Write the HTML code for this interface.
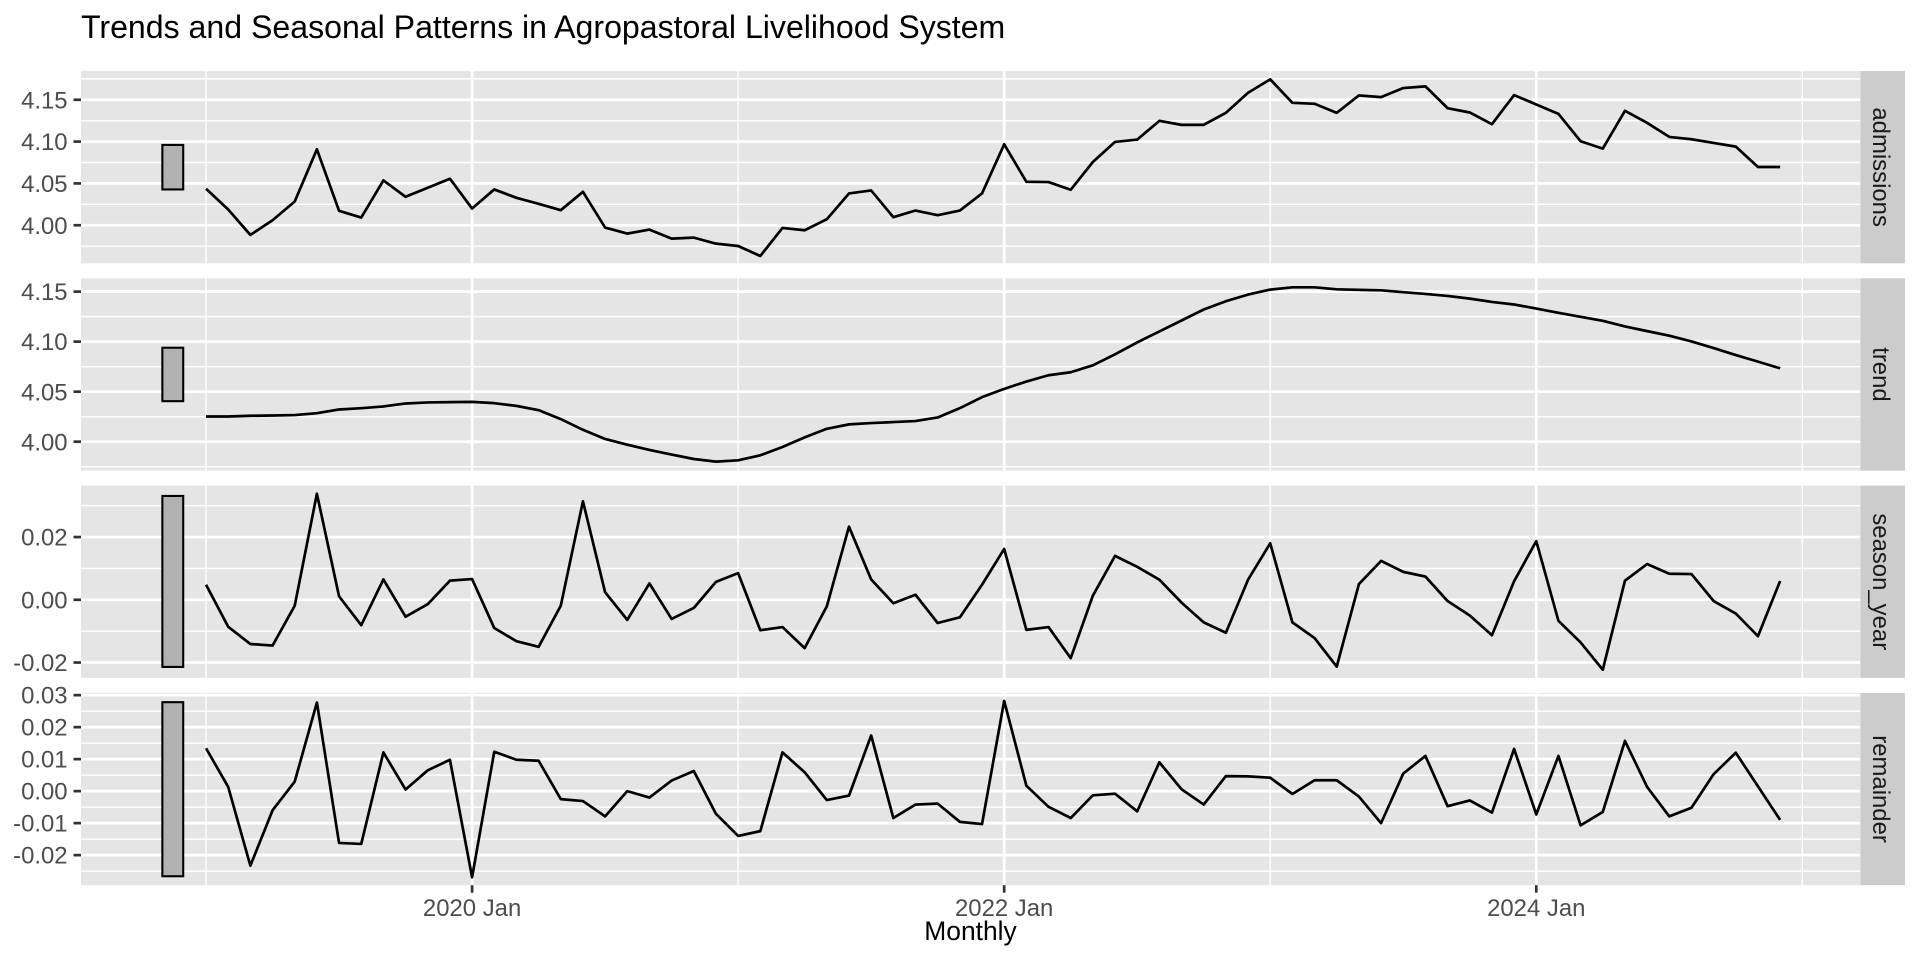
<!DOCTYPE html>
<html lang="en">
<head>
<meta charset="utf-8">
<title>Trends and Seasonal Patterns in Agropastoral Livelihood System</title>
<style>
html,body{margin:0;padding:0;background:#fff;width:1920px;height:960px;overflow:hidden}
svg{display:block}
text{font-family:"Liberation Sans",Arial,Helvetica,sans-serif}
</style>
</head>
<body>
<svg id="chart" xmlns="http://www.w3.org/2000/svg" width="1920" height="960" viewBox="0 0 1920 960">
  <rect x="0" y="0" width="1920" height="960" fill="#ffffff"/>
  <text x="81" y="38" font-size="32.1" fill="#000000">Trends and Seasonal Patterns in Agropastoral Livelihood System</text>
  <text x="970.5" y="940" font-size="26.4" text-anchor="middle" fill="#000000">Monthly</text>
  <g id="panels"></g>
</svg>
<script>
// Monthly series, January 2019 to December 2024
const admissionsValues = [4.0436,4.0188,3.9884,4.0060,4.0284,4.0908,4.0172,4.0092,4.0536,4.0340,4.0448,4.0556,
4.0200,4.0428,4.0328,4.0256,4.0180,4.0400,3.9972,3.9900,3.9948,3.9840,3.9852,3.9780,
3.9752,3.9632,3.9968,3.9940,4.0072,4.0380,4.0416,4.0096,4.0176,4.0120,4.0176,4.0380,
4.0968,4.0520,4.0516,4.0424,4.0756,4.0996,4.1024,4.1248,4.1200,4.1200,4.1344,4.1584,
4.1744,4.1464,4.1452,4.1344,4.1552,4.1532,4.1640,4.1660,4.1400,4.1348,4.1208,4.1556,
4.1444,4.1332,4.1004,4.0916,4.1368,4.1224,4.1056,4.1028,4.0984,4.0940,4.0696,4.0696];
const trendValues = [4.0252,4.0252,4.0259,4.0262,4.0266,4.0285,4.0322,4.0335,4.0352,4.0382,4.0392,4.0395,
4.0398,4.0385,4.0358,4.0315,4.0226,4.0119,4.0027,3.9970,3.9917,3.9871,3.9827,3.9801,
3.9814,3.9864,3.9947,4.0043,4.0129,4.0173,4.0186,4.0196,4.0206,4.0242,4.0335,4.0445,
4.0528,4.0601,4.0664,4.0694,4.0763,4.0873,4.0992,4.1102,4.1211,4.1321,4.1404,4.1470,
4.1520,4.1543,4.1543,4.1523,4.1517,4.1513,4.1494,4.1477,4.1457,4.1430,4.1397,4.1371,
4.1331,4.1288,4.1248,4.1208,4.1152,4.1105,4.1059,4.1002,4.0936,4.0866,4.0800,4.0733];
const seasonValues = [0.0048,-0.0086,-0.0141,-0.0146,-0.0019,0.0338,0.0011,-0.0081,0.0065,-0.0054,-0.0014,0.0061,
0.0066,-0.0090,-0.0132,-0.0150,-0.0019,0.0314,0.0024,-0.0064,0.0052,-0.0061,-0.0026,0.0057,
0.0085,-0.0097,-0.0087,-0.0154,-0.0021,0.0233,0.0065,-0.0011,0.0016,-0.0074,-0.0056,0.0048,
0.0162,-0.0096,-0.0087,-0.0186,0.0013,0.0140,0.0105,0.0064,-0.0009,-0.0072,-0.0105,0.0064,
0.0180,-0.0072,-0.0122,-0.0213,0.0050,0.0124,0.0089,0.0074,-0.0004,-0.0050,-0.0113,0.0059,
0.0187,-0.0067,-0.0136,-0.0223,0.0061,0.0114,0.0083,0.0082,-0.0004,-0.0044,-0.0116,0.0060];
const remainderValues = [0.0134,0.0013,-0.0233,-0.0060,0.0030,0.0277,-0.0162,-0.0165,0.0121,0.0005,0.0065,0.0098,
-0.0269,0.0123,0.0098,0.0095,-0.0025,-0.0031,-0.0079,0.0000,-0.0020,0.0033,0.0063,-0.0071,
-0.0140,-0.0125,0.0121,0.0059,-0.0028,-0.0014,0.0174,-0.0084,-0.0042,-0.0039,-0.0096,-0.0103,
0.0282,0.0017,-0.0049,-0.0084,-0.0013,-0.0008,-0.0063,0.0090,0.0006,-0.0042,0.0047,0.0046,
0.0042,-0.0009,0.0034,0.0034,-0.0017,-0.0100,0.0055,0.0110,-0.0047,-0.0029,-0.0067,0.0132,
-0.0073,0.0110,-0.0107,-0.0065,0.0157,0.0013,-0.0079,-0.0052,0.0053,0.0120,0.0015,-0.0090];

// Panel names
const panelNames = ["admissions","trend","season_year","remainder"];

// Y tick values per panel
const admissionsTicks = [4.00,4.05,4.10,4.15];
const trendTicks = [4.00,4.05,4.10,4.15];
const seasonTicks = [-0.02,0.00,0.02];
const remainderTicks = [-0.02,-0.01,0.00,0.01,0.02,0.03];

// Y range-bar extents per panel (low, high)
const admissionsRange = [4.0428,4.0960];
const trendRange = [4.0405,4.0939];
const seasonRange = [-0.0214,0.0331];
const remainderRange = [-0.0266,0.0278];

// X axis: labelled years and unlabelled years (month offsets from Jan 2019)
const majorMonths = [12,36,60];
const majorLabels = ["2020 Jan","2022 Jan","2024 Jan"];
const minorMonths = [0,24,48,72];

// Y domains per panel (bottom, top of panel)
const admissionsDomain = [3.9545,4.1844];
const trendDomain = [3.9711,4.1633];
const seasonDomain = [-0.0249,0.0364];
const remainderDomain = [-0.0294,0.0307];

const NS = "http://www.w3.org/2000/svg";
const root = document.getElementById("panels");
const plotLeft = 81, plotRight = 1860.4, stripRight = 1905;
const panelTop0 = 71, panelH = 192.3, panelGap = 15;
const xMonthMin = -5.64, xMonthMax = 74.62;

function xScale(m){
  return plotLeft + (m - xMonthMin) / (xMonthMax - xMonthMin) * (plotRight - plotLeft);
}
function makeYScale(domain, top){
  return function(v){
    return top + panelH - (v - domain[0]) / (domain[1] - domain[0]) * panelH;
  };
}
function svgEl(tag, attrs, parent){
  const el = document.createElementNS(NS, tag);
  for (const k in attrs) el.setAttribute(k, attrs[k]);
  parent.appendChild(el);
  return el;
}

const panelSeries = [admissionsValues, trendValues, seasonValues, remainderValues];
const panelTicks = [admissionsTicks, trendTicks, seasonTicks, remainderTicks];
const panelRanges = [admissionsRange, trendRange, seasonRange, remainderRange];
const panelDomains = [admissionsDomain, trendDomain, seasonDomain, remainderDomain];

panelNames.forEach(function(name, p){
  const top = panelTop0 + p * (panelH + panelGap);
  const bottom = top + panelH;
  const y = makeYScale(panelDomains[p], top);
  const ticks = panelTicks[p];
  const dom = panelDomains[p];

  const g = svgEl("g", {}, root);
  
  

  const bg = svgEl("rect", {x:plotLeft, y:top, width:plotRight-plotLeft, height:panelH, fill:"#e5e5e5"}, g);
  
  

  // minor horizontal gridlines: half-way between major ticks, and beyond the ends
  const step = ticks[1] - ticks[0];
  for (let i = -1; i < ticks.length; i++) {
    const mv = ticks[0] + (i + 0.5) * step;
    if (mv <= dom[0] || mv >= dom[1]) continue;
    const ml = svgEl("line", {x1:plotLeft, x2:plotRight, y1:y(mv), y2:y(mv), stroke:"#ffffff", "stroke-width":1.4}, g);
    
    
  }
  minorMonths.forEach(function(m){
    const l = svgEl("line", {x1:xScale(m), x2:xScale(m), y1:top, y2:bottom, stroke:"#ffffff", "stroke-width":1.4}, g);
    
    
  });
  ticks.forEach(function(t){
    const l = svgEl("line", {x1:plotLeft, x2:plotRight, y1:y(t), y2:y(t), stroke:"#ffffff", "stroke-width":2.7}, g);
    
    
  });
  majorMonths.forEach(function(m){
    const l = svgEl("line", {x1:xScale(m), x2:xScale(m), y1:top, y2:bottom, stroke:"#ffffff", "stroke-width":2.7}, g);
    
    
  });

  // scale range bar
  const r = panelRanges[p];
  const bar = svgEl("rect", {x:xScale(-1.5-0.47), y:y(r[1]), width:xScale(-1.5+0.47)-xScale(-1.5-0.47), height:y(r[0])-y(r[1]), fill:"#b2b2b2", stroke:"#000000", "stroke-width":2.1}, g);
  
  

  // series line
  const pts = panelSeries[p].map(function(v, i){ return xScale(i).toFixed(2) + "," + y(v).toFixed(2); }).join(" ");
  const line = svgEl("polyline", {points:pts, fill:"none", stroke:"#000000", "stroke-width":2.7, "stroke-linejoin":"round", "stroke-linecap":"butt"}, g);
  
  

  // y ticks and labels
  ticks.forEach(function(t){
    const tk = svgEl("line", {x1:plotLeft-7.5, x2:plotLeft, y1:y(t), y2:y(t), stroke:"#333333", "stroke-width":2.7}, g);
    
    
    const lb = svgEl("text", {x:67.6, y:y(t)+8.6, "font-size":23.9, "text-anchor":"end", fill:"#4d4d4d"}, g);
    
    
    lb.textContent = t.toFixed(2);
  });

  // strip
  const st = svgEl("rect", {x:plotRight, y:top, width:stripRight-plotRight, height:panelH, fill:"#cccccc"}, g);
  
  
  const cy = top + panelH / 2;
  const sl = svgEl("text", {x:0, y:0, transform:"translate(1873," + cy + ") rotate(90)", "font-size":23.9, "text-anchor":"middle", fill:"#1a1a1a"}, g);
  
  
  sl.textContent = name;
});

// x axis ticks and labels, below the last panel
const axisY = panelTop0 + 3 * (panelH + panelGap) + panelH;
const xAxis = svgEl("g", {}, root);


majorMonths.forEach(function(m, i){
  const tk = svgEl("line", {x1:xScale(m), x2:xScale(m), y1:axisY, y2:axisY+7.5, stroke:"#333333", "stroke-width":2.7}, xAxis);
  
  
  const lb = svgEl("text", {x:xScale(m), y:916, "font-size":23.9, "text-anchor":"middle", fill:"#4d4d4d"}, xAxis);
  
  
  lb.textContent = majorLabels[i];
});
</script>
</body>
</html>
